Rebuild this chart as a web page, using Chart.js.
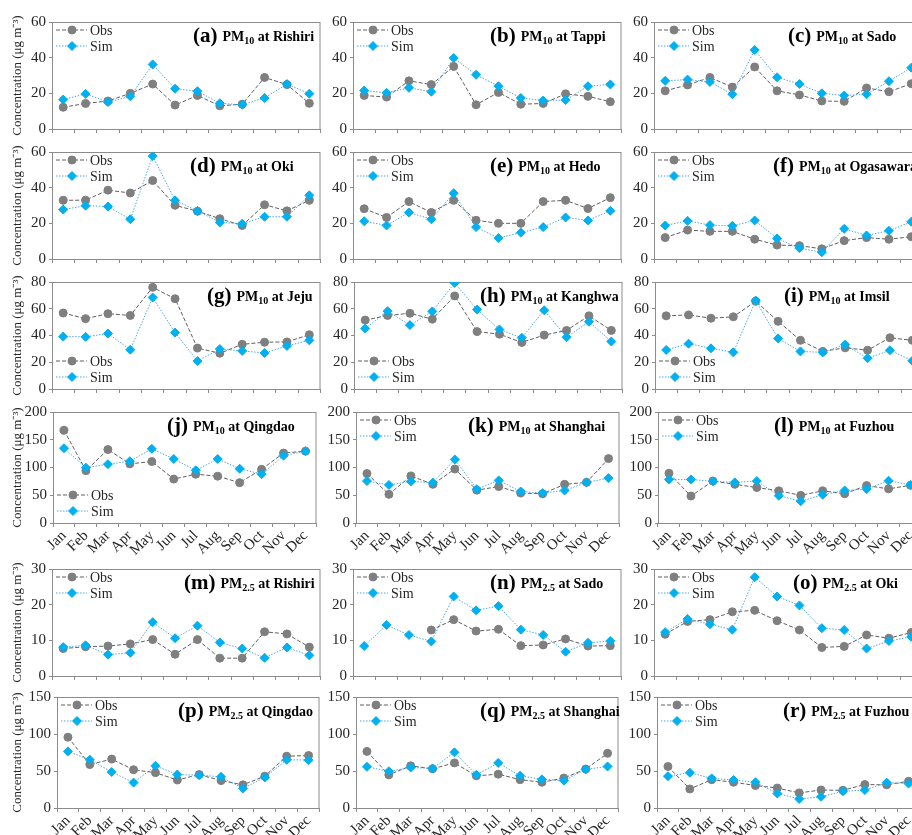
<!DOCTYPE html>
<html>
<head>
<meta charset="utf-8">
<script src="https://cdn.jsdelivr.net/npm/chart.js@4.4.1/dist/chart.umd.min.js"></script>
<style>
  html, body { margin: 0; padding: 0; background: #fff; overflow: hidden; }
  body { width: 912px; height: 835px; position: relative; }
  canvas.panel { position: absolute; }
</style>
</head>
<body>
<script>
const months = ['Jan', 'Feb', 'Mar', 'Apr', 'May', 'Jun', 'Jul', 'Aug', 'Sep', 'Oct', 'Nov', 'Dec'];

// PM10 monthly means (µg m-3)
const obsRishiri10 = [12.2, 14.3, 15.7, 20.0, 25.2, 13.4, 18.8, 13.0, 13.9, 28.9, 24.9, 14.4];
const simRishiri10 = [16.5, 19.7, 15.1, 18.3, 36.2, 22.6, 21.2, 14.4, 13.6, 17.4, 25.2, 19.8];
const obsTappi10 = [18.8, 17.9, 27.0, 24.9, 35.1, 13.6, 20.5, 13.9, 14.3, 19.7, 18.3, 15.3];
const simTappi10 = [21.6, 20.3, 23.1, 20.9, 39.8, 30.4, 24.0, 17.4, 16.0, 16.2, 24.0, 25.0];
const obsSado10 = [21.4, 24.7, 28.9, 23.5, 34.8, 21.4, 19.1, 15.7, 15.5, 23.0, 20.9, 25.4];
const simSado10 = [27.0, 27.7, 26.4, 19.5, 44.3, 29.0, 25.2, 20.0, 18.8, 19.5, 26.8, 34.4];
const obsOki10 = [32.9, 33.0, 38.6, 37.0, 44.0, 30.1, 26.8, 22.6, 18.8, 30.4, 27.0, 32.9];
const simOki10 = [27.7, 29.9, 29.4, 22.3, 57.7, 32.9, 27.0, 20.5, 19.8, 23.7, 23.7, 35.7];
const obsHedo10 = [28.2, 23.3, 32.2, 26.1, 32.9, 21.7, 20.0, 20.0, 32.2, 32.9, 28.3, 34.4];
const simHedo10 = [21.2, 18.8, 26.1, 22.3, 36.9, 17.9, 11.8, 14.8, 17.9, 23.3, 21.6, 27.0];
const obsOgasawara10 = [12.0, 16.2, 15.5, 15.5, 11.1, 7.8, 7.5, 5.7, 10.3, 12.0, 11.1, 12.5];
const simOgasawara10 = [18.8, 21.4, 19.0, 18.6, 21.6, 11.5, 6.1, 3.8, 16.9, 13.2, 15.8, 20.9];
const obsJeju10 = [56.8, 52.6, 56.3, 55.0, 76.0, 67.5, 30.6, 26.7, 33.4, 35.0, 35.2, 40.6];
const simJeju10 = [39.2, 39.0, 41.5, 29.4, 68.4, 42.2, 20.9, 29.9, 28.5, 26.9, 32.2, 36.4];
const obsKanghwa10 = [51.5, 55.0, 56.6, 52.2, 69.6, 42.9, 41.0, 34.8, 40.3, 43.8, 54.7, 43.8];
const simKanghwa10 = [45.2, 58.2, 47.8, 58.0, 79.3, 59.4, 44.5, 38.3, 58.9, 38.7, 50.3, 35.5];
const obsImsil10 = [54.7, 55.4, 52.9, 54.0, 65.6, 50.6, 36.4, 28.1, 30.8, 29.0, 38.3, 36.4];
const simImsil10 = [29.2, 33.9, 30.4, 27.4, 66.1, 37.8, 28.1, 27.4, 33.2, 23.0, 29.0, 21.1];
const obsQingdao10 = [167.0, 94.3, 132.4, 106.6, 110.7, 79.1, 87.9, 84.4, 72.7, 96.7, 126.0, 129.5];
const simQingdao10 = [134.8, 99.6, 106.0, 111.3, 133.6, 115.4, 94.9, 115.4, 97.8, 87.9, 121.3, 129.5];
const obsShanghai10 = [89.0, 51.6, 84.9, 69.7, 97.3, 59.2, 65.6, 53.9, 52.7, 69.7, 73.2, 116.0];
const simShanghai10 = [75.6, 68.6, 75.0, 72.7, 114.3, 60.9, 76.8, 56.8, 53.9, 58.6, 73.2, 80.9];
const obsFuzhou10 = [89.6, 48.6, 75.6, 69.7, 63.9, 58.0, 49.8, 58.0, 52.7, 67.4, 61.5, 68.0];
const simFuzhou10 = [78.5, 78.5, 75.0, 73.2, 75.6, 49.2, 39.3, 50.9, 58.6, 60.9, 76.2, 68.6];

// PM2.5 monthly means (µg m-3)
const obsRishiri25 = [7.7, 8.2, 8.4, 9.0, 10.2, 6.1, 10.2, 5.0, 5.0, 12.4, 11.8, 8.1];
const simRishiri25 = [8.1, 8.6, 6.0, 6.5, 15.1, 10.6, 14.1, 9.4, 7.7, 5.1, 8.0, 5.8];
const obsSado25 = [null, null, null, 12.9, 15.8, 12.6, 13.1, 8.5, 8.7, 10.4, 8.4, 8.5];
const simSado25 = [8.4, 14.3, 11.5, 9.7, 22.3, 18.4, 19.6, 13.0, 11.5, 6.8, 9.3, 9.8];
const obsOki25 = [11.7, 15.3, 15.8, 18.0, 18.4, 15.5, 12.9, 8.0, 8.3, 11.5, 10.6, 12.2];
const simOki25 = [12.3, 16.0, 14.5, 13.0, 27.7, 22.3, 19.8, 13.4, 12.9, 7.7, 9.8, 11.0];
const obsQingdao25 = [95.7, 58.7, 66.1, 51.7, 47.8, 37.8, 45.2, 37.0, 31.3, 43.0, 70.0, 70.9];
const simQingdao25 = [76.5, 65.2, 48.7, 34.3, 57.0, 45.2, 44.3, 42.2, 26.5, 41.3, 65.2, 64.8];
const obsShanghai25 = [76.5, 44.8, 57.0, 53.0, 60.9, 43.5, 45.7, 38.3, 34.8, 40.4, 52.6, 73.9];
const simShanghai25 = [55.7, 49.6, 54.8, 53.5, 75.2, 44.8, 60.9, 43.5, 38.7, 37.0, 52.2, 56.1];
const obsFuzhou25 = [56.1, 25.7, 38.3, 34.8, 30.4, 27.0, 20.4, 24.3, 23.9, 31.7, 31.3, 36.1];
const simFuzhou25 = [43.0, 47.8, 40.0, 37.8, 34.8, 19.6, 12.2, 15.2, 22.6, 24.3, 34.3, 33.0];

const panels = [
  { tag: 'a', pm: '10', site: 'Rishiri', obs: obsRishiri10, sim: simRishiri10, max: 60, step: 20 },
  { tag: 'b', pm: '10', site: 'Tappi', obs: obsTappi10, sim: simTappi10, max: 60, step: 20 },
  { tag: 'c', pm: '10', site: 'Sado', obs: obsSado10, sim: simSado10, max: 60, step: 20 },
  { tag: 'd', pm: '10', site: 'Oki', obs: obsOki10, sim: simOki10, max: 60, step: 20 },
  { tag: 'e', pm: '10', site: 'Hedo', obs: obsHedo10, sim: simHedo10, max: 60, step: 20 },
  { tag: 'f', pm: '10', site: 'Ogasawara', obs: obsOgasawara10, sim: simOgasawara10, max: 60, step: 20 },
  { tag: 'g', pm: '10', site: 'Jeju', obs: obsJeju10, sim: simJeju10, max: 80, step: 20 },
  { tag: 'h', pm: '10', site: 'Kanghwa', obs: obsKanghwa10, sim: simKanghwa10, max: 80, step: 20 },
  { tag: 'i', pm: '10', site: 'Imsil', obs: obsImsil10, sim: simImsil10, max: 80, step: 20 },
  { tag: 'j', pm: '10', site: 'Qingdao', obs: obsQingdao10, sim: simQingdao10, max: 200, step: 50 },
  { tag: 'k', pm: '10', site: 'Shanghai', obs: obsShanghai10, sim: simShanghai10, max: 200, step: 50 },
  { tag: 'l', pm: '10', site: 'Fuzhou', obs: obsFuzhou10, sim: simFuzhou10, max: 200, step: 50 },
  { tag: 'm', pm: '2.5', site: 'Rishiri', obs: obsRishiri25, sim: simRishiri25, max: 30, step: 10 },
  { tag: 'n', pm: '2.5', site: 'Sado', obs: obsSado25, sim: simSado25, max: 30, step: 10 },
  { tag: 'o', pm: '2.5', site: 'Oki', obs: obsOki25, sim: simOki25, max: 30, step: 10 },
  { tag: 'p', pm: '2.5', site: 'Qingdao', obs: obsQingdao25, sim: simQingdao25, max: 150, step: 50 },
  { tag: 'q', pm: '2.5', site: 'Shanghai', obs: obsShanghai25, sim: simShanghai25, max: 150, step: 50 },
  { tag: 'r', pm: '2.5', site: 'Fuzhou', obs: obsFuzhou25, sim: simFuzhou25, max: 150, step: 50 }
];

// grid geometry: plot-area top of each row, left edges and widths of plot areas
const rowTop = [18, 148, 278, 408, 565, 693];
const rowLefts = [[52, 353, 654], [52, 353, 654], [52, 354, 655], [53, 356, 658], [52, 353, 654], [57, 356, 657]];
const rowWidth = [270, 270, 270, 265, 270, 264];
const plotH = 115;
const monthRows = [3, 5];
const legendBelow = ['g', 'h', 'i', 'j'];
const titleShift = { a: 141, b: 137, c: 134, d: 138, e: 137, f: 119, g: 155, h: 126, i: 129,
  j: 114, k: 112, l: 116, m: 132, n: 137, o: 139, p: 121, q: 124, r: 126 };

const serif = '"Liberation Serif", "Times New Roman", serif';
const axisGray = '#8c8c8c';
const inkColor = '#262626';

function drawKey(ctx, ds, x, y) {
  ctx.save();
  ctx.strokeStyle = ds.borderColor;
  ctx.lineWidth = 1;
  ctx.setLineDash(ds.borderDash);
  ctx.beginPath();
  ctx.moveTo(x, y);
  ctx.lineTo(x + 31, y);
  ctx.stroke();
  ctx.setLineDash([]);
  ctx.fillStyle = ds.pointBackgroundColor;
  ctx.strokeStyle = ds.pointBorderColor;
  Chart.helpers.drawPoint(ctx, { pointStyle: ds.pointStyle, radius: ds.pointRadius, borderWidth: 1 }, x + 16, y);
  ctx.fillStyle = inkColor;
  ctx.font = '14px ' + serif;
  ctx.textBaseline = 'middle';
  ctx.textAlign = 'left';
  ctx.fillText(ds.label, x + 34, y + 1);
  ctx.restore();
}

const panelDecor = {
  id: 'panelDecor',
  beforeDatasetsDraw(chart) {
    const { ctx, chartArea: a } = chart;
    ctx.save();
    ctx.strokeStyle = axisGray;
    ctx.lineWidth = 1;
    ctx.strokeRect(a.left + 0.5, a.top + 0.5, a.right - a.left - 1, a.bottom - a.top);
    ctx.restore();
  },
  afterDraw(chart, args, opts) {
    const { ctx, chartArea: a } = chart;
    const sets = chart.data.datasets;
    const ky = opts.below ? a.bottom - 28 : a.top + 8;
    drawKey(ctx, sets[0], a.left + 4, ky);
    drawKey(ctx, sets[1], a.left + 4, ky + 16);

    ctx.save();
    ctx.fillStyle = '#000';
    ctx.textBaseline = 'alphabetic';
    ctx.textAlign = 'left';
    let x = a.left + opts.shift;
    const y = a.top + 20;
    ctx.font = 'bold 21px ' + serif;
    ctx.fillText('(' + opts.tag + ')', x, y);
    x += ctx.measureText('(' + opts.tag + ')').width + 5;
    ctx.font = 'bold 14px ' + serif;
    ctx.fillText('PM', x, y - 1);
    x += ctx.measureText('PM').width;
    ctx.font = 'bold 10px ' + serif;
    ctx.fillText(opts.pm, x, y + 2);
    x += ctx.measureText(opts.pm).width;
    ctx.font = 'bold 14px ' + serif;
    ctx.fillText(' at ' + opts.site, x, y - 1);
    ctx.restore();
  }
};

panels.forEach((p, i) => {
  const row = Math.floor(i / 3);
  const col = i % 3;
  const plotLeft = rowLefts[row][col];
  const plotW = rowWidth[row];
  const withMonths = monthRows.includes(row);
  const yW = col === 0 ? plotLeft : 32;
  const xH = withMonths ? 36 : 8;
  const padT = 8;
  const padR = 4;

  const canvas = document.createElement('canvas');
  canvas.className = 'panel';
  canvas.width = yW + plotW + padR;
  canvas.height = padT + plotH + xH;
  canvas.style.left = (plotLeft - yW) + 'px';
  canvas.style.top = (rowTop[row] - padT) + 'px';
  document.body.appendChild(canvas);

  new Chart(canvas, {
    type: 'line',
    data: {
      labels: months,
      datasets: [
        {
          label: 'Obs', data: p.obs, order: 1,
          borderColor: '#5f5f5f', borderWidth: 1, borderDash: [4, 2],
          pointStyle: 'circle', pointRadius: 4, pointBorderWidth: 1,
          pointBackgroundColor: '#7f7f7f', pointBorderColor: '#7f7f7f'
        },
        {
          label: 'Sim', data: p.sim, order: 0,
          borderColor: '#4fa6e6', borderWidth: 1, borderDash: [1.5, 1.5],
          pointStyle: 'rectRot', pointRadius: 4.5, pointBorderWidth: 1,
          pointBackgroundColor: '#00b0f0', pointBorderColor: '#00b0f0'
        }
      ]
    },
    options: {
      responsive: false,
      animation: false,
      devicePixelRatio: 1,
      layout: { padding: { top: padT, right: padR, left: 0, bottom: 0 } },
      plugins: {
        legend: { display: false },
        tooltip: { enabled: false },
        panelDecor: { tag: p.tag, pm: p.pm, site: p.site, shift: titleShift[p.tag], below: legendBelow.includes(p.tag) }
      },
      scales: {
        x: {
          offset: true,
          grid: { offset: true, drawOnChartArea: false, tickLength: 4, color: axisGray },
          border: { color: axisGray },
          ticks: {
            display: withMonths, autoSkip: false, minRotation: 45, maxRotation: 45,
            padding: 0, color: inkColor, font: { family: serif, size: 15 }
          },
          afterFit(scale) { scale.height = xH; }
        },
        y: {
          min: 0,
          max: p.max,
          grid: { drawOnChartArea: false, tickLength: 3, color: axisGray },
          border: { color: axisGray },
          ticks: { stepSize: p.step, padding: 3, color: inkColor, font: { family: serif, size: 15 } },
          title: {
            display: col === 0,
            text: 'Concentration (μg m⁻³)',
            color: inkColor,
            font: { family: serif, size: 13 },
            padding: { top: 10, bottom: 0 }
          },
          afterFit(scale) { scale.width = yW; }
        }
      }
    },
    plugins: [panelDecor]
  });
});
</script>
</body>
</html>
